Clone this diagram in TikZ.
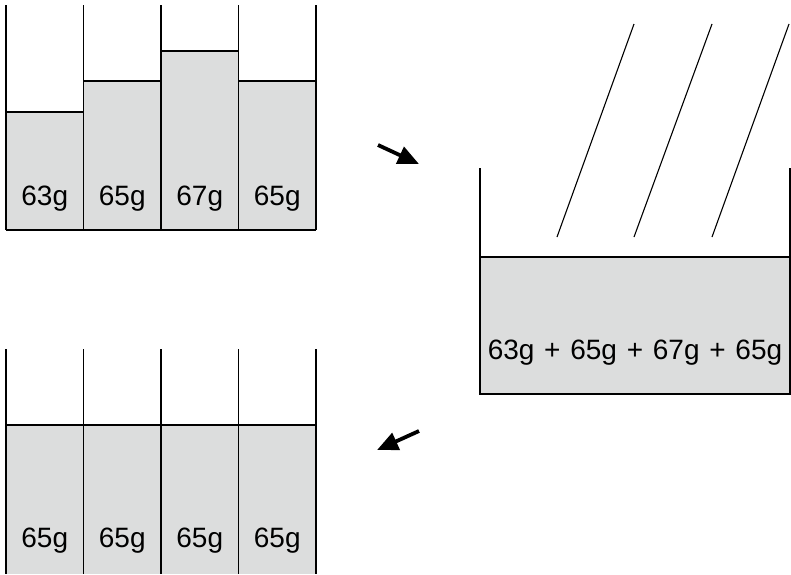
\documentclass[tikz,border=0pt]{standalone}
\usepackage{fontspec}
\setmainfont{Liberation Sans}
\usetikzlibrary{arrows.meta}
\definecolor{liquid}{HTML}{DCDDDD}
\tikzset{
  wall/.style={line width=1.8pt, black},
  lbl/.style={font=\fontsize{28}{32}\selectfont, inner sep=0pt},
  pour/.style={line width=1.1pt},
  bigarrow/.style={line width=3.8pt, -{Triangle[length=21pt,width=18pt]}}
}
\begin{document}
\begin{tikzpicture}[x=1pt,y=-1pt]
\useasboundingbox (0,0) rectangle (791,574);
% top group
\fill[liquid] (6,112) rectangle (83.5,230);
\fill[liquid] (83.5,81) rectangle (161,230);
\fill[liquid] (161,51) rectangle (238.5,230);
\fill[liquid] (238.5,81) rectangle (316,230);
\draw[wall] (6,112) -- (83.5,112) (83.5,81) -- (161,81) (161,51) -- (238.5,51) (238.5,81) -- (316,81);
\draw[wall] (6,5) -- (6,230) (83.5,5) -- (83.5,230) (161,5) -- (161,230) (238.5,5) -- (238.5,230) (316,5) -- (316,230);
\draw[wall] (6,230) -- (316,230);
\node[lbl] (t1) at (44.75,199) {63g};
\node[lbl] (t2) at (122.25,199) {65g};
\node[lbl] (t3) at (199.75,199) {67g};
\node[lbl] (t4) at (277.25,199) {65g};
% right container
\fill[liquid] (480,257) rectangle (790,394);
\draw[wall, line width=1.4pt] (480,168) -- (480,394) -- (790,394) -- (790,168);
\draw[wall, line width=1.4pt] (480,257) -- (790,257);
\draw[pour] (557,237) -- (634,24);
\draw[pour] (634,237) -- (712,24);
\draw[pour] (712,237) -- (789,24);
\node[lbl] (sum) at (635,353) {63g\hspace{0.07em} + \hspace{0.07em}65g\hspace{0.07em} + \hspace{0.07em}67g\hspace{0.07em} + \hspace{0.07em}65g};
% bottom group
\fill[liquid] (6,425) rectangle (316,574);
\draw[wall] (6,425) -- (316,425);
\draw[wall] (6,349) -- (6,574) (83.5,349) -- (83.5,574) (161,349) -- (161,574) (238.5,349) -- (238.5,574) (316,349) -- (316,574);
\node[lbl] (b1) at (44.75,541) {65g};
\node[lbl] (b2) at (122.25,541) {65g};
\node[lbl] (b3) at (199.75,541) {65g};
\node[lbl] (b4) at (277.25,541) {65g};
% arrows
\coordinate (a1s) at (378,145);
\coordinate (a1e) at (419,164);
\coordinate (a2s) at (419,431);
\coordinate (a2e) at (377,450);
\draw[bigarrow] (a1s) -- (a1e);
\draw[bigarrow] (a2s) -- (a2e);
\end{tikzpicture}
\end{document}
